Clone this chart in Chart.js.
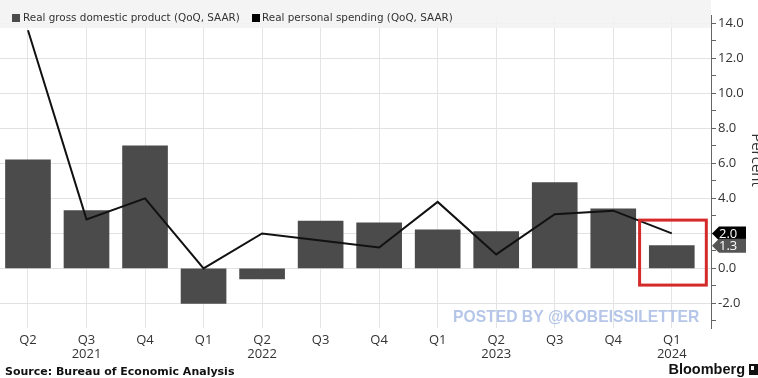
<!DOCTYPE html>
<html>
<head>
<meta charset="utf-8">
<script src="https://cdn.jsdelivr.net/npm/chart.js@4.4.1/dist/chart.umd.min.js"></script>
<style>
  html, body { margin: 0; padding: 0; background: #fff; }
  #wrap { width: 758px; height: 378px; position: relative; }
</style>
</head>
<body>
<div id="wrap"><canvas id="gdp-chart"></canvas></div>
<script>
// Quarterly labels, Q2 2021 .. Q1 2024
const quarters = ['Q2', 'Q3', 'Q4', 'Q1', 'Q2', 'Q3', 'Q4', 'Q1', 'Q2', 'Q3', 'Q4', 'Q1'];
const yearLabels = ['', '2021', '', '', '2022', '', '', '', '2023', '', '', '2024'];

// QoQ SAAR, percent
const gdpGrowth = [6.2, 3.3, 7.0, -2.0, -0.6, 2.7, 2.6, 2.2, 2.1, 4.9, 3.4, 1.3];
const spendingGrowth = [13.6, 2.8, 4.0, 0.0, 2.0, 1.6, 1.2, 3.8, 0.8, 3.1, 3.3, 2.0];

const seriesNames = ['Real gross domestic product (QoQ, SAAR)', 'Real personal spending (QoQ, SAAR)'];

const barColor = '#4b4b4b';
const lineColor = '#111111';
const tickFont = { family: "'Open Sans', sans-serif", size: 13, lineHeight: 1.08 };

// latest quarter highlight (x in quarter index, y in percent)
const highlightBox = { x0: 10.45, x1: 11.59, y0: 2.76, y1: -0.95 };

const overlay = {
    id: 'overlay',
    afterDatasetsDraw(chart) {
        const { ctx, chartArea, scales } = chart;
        const xs = scales.x, ys = scales.y;
        ctx.save();

        // legend strip across the top of the plot
        ctx.fillStyle = 'rgba(242,242,242,0.88)';
        ctx.fillRect(0, 0, chartArea.right, 28);
        ctx.font = "10.4px 'DejaVu Sans'";
        ctx.textBaseline = 'middle';
        ctx.fillStyle = barColor;
        ctx.fillRect(12, 14, 8, 8);
        ctx.fillStyle = '#333';
        ctx.fillText(seriesNames[0], 23, 18);
        ctx.fillStyle = '#000';
        ctx.fillRect(252, 14, 8, 8);
        ctx.fillStyle = '#333';
        ctx.fillText(seriesNames[1], 262, 18);

        // red box around the latest quarter
        const bx0 = xs.getPixelForValue(highlightBox.x0);
        const bx1 = xs.getPixelForValue(highlightBox.x1);
        const by0 = ys.getPixelForValue(highlightBox.y0);
        const by1 = ys.getPixelForValue(highlightBox.y1);
        ctx.strokeStyle = '#d42a2a';
        ctx.lineWidth = 3;
        ctx.strokeRect(bx0, by0, bx1 - bx0, by1 - by0);

        // watermark
        ctx.font = "bold 15.7px 'Liberation Sans'";
        ctx.fillStyle = 'rgba(168,188,228,0.85)';
        ctx.textBaseline = 'middle';
        ctx.fillText('POSTED BY @KOBEISSILETTER', 453, 318);
        ctx.restore();
    },
    afterDraw(chart) {
        const { ctx, chartArea, scales } = chart;
        const ys = scales.y;
        const ax = chartArea.right;
        ctx.save();

        // last-value tags on the axis
        function tag(value, fill) {
            const yc = ys.getPixelForValue(value);
            ctx.fillStyle = fill;
            ctx.beginPath();
            ctx.moveTo(ax + 1, yc);
            ctx.lineTo(ax + 8, yc - 7);
            ctx.lineTo(746, yc - 7);
            ctx.lineTo(746, yc + 7);
            ctx.lineTo(ax + 8, yc + 7);
            ctx.closePath();
            ctx.fill();
            ctx.fillStyle = '#fff';
            ctx.font = "13px 'Open Sans'";
            ctx.textBaseline = 'middle';
            ctx.textAlign = 'left';
            ctx.fillText(value.toFixed(1), 719, yc + 0.5);
        }
        tag(spendingGrowth[spendingGrowth.length - 1], '#000');
        tag(gdpGrowth[gdpGrowth.length - 1], '#555');

        // axis title, rotated clockwise
        ctx.save();
        ctx.translate(756, 160);
        ctx.rotate(Math.PI / 2);
        ctx.font = "15px 'Open Sans'";
        ctx.fillStyle = '#333';
        ctx.textAlign = 'center';
        ctx.textBaseline = 'middle';
        ctx.fillText('Percent', 0, 0);
        ctx.restore();

        // footer
        ctx.textBaseline = 'middle';
        ctx.textAlign = 'left';
        ctx.fillStyle = '#111';
        ctx.font = "bold 11px 'DejaVu Sans'";
        ctx.fillText('Source: Bureau of Economic Analysis', 5, 372);
        ctx.font = "bold 14.5px 'Liberation Sans'";
        ctx.textAlign = 'right';
        ctx.fillText('Bloomberg', 745, 370);
        ctx.fillRect(749, 364, 9, 11);
        ctx.fillStyle = '#fff';
        ctx.fillRect(751, 366, 3, 4);
        ctx.restore();
    }
};

new Chart(document.getElementById('gdp-chart'), {
    data: {
        datasets: [
            {
                type: 'line',
                label: seriesNames[1],
                data: spendingGrowth.map((v, i) => ({ x: i, y: v })),
                borderColor: lineColor,
                borderWidth: 2,
                pointRadius: 0,
                tension: 0,
                order: 1
            },
            {
                type: 'bar',
                label: seriesNames[0],
                data: gdpGrowth.map((v, i) => ({ x: i, y: v })),
                backgroundColor: barColor,
                barThickness: 45,
                order: 2
            }
        ]
    },
    options: {
        responsive: true,
        maintainAspectRatio: false,
        animation: false,
        layout: { padding: { top: 15, left: 0, right: 0, bottom: 0 } },
        plugins: {
            legend: { display: false },
            tooltip: { enabled: false }
        },
        scales: {
            x: {
                type: 'linear',
                offset: false,
                min: -0.478,
                max: 11.67,
                afterFit: s => { s.height = 50; },
                grid: { color: '#e4e4e4', drawTicks: false, offset: false },
                border: { display: false },
                ticks: {
                    stepSize: 1,
                    includeBounds: false,
                    autoSkip: false,
                    maxRotation: 0,
                    padding: 5,
                    color: '#333',
                    font: tickFont,
                    callback: v => yearLabels[v] ? [quarters[v], yearLabels[v]] : quarters[v]
                }
            },
            y: {
                position: 'right',
                min: -3.4,
                max: 14.47,
                afterFit: s => { s.width = 47; },
                grid: {
                    color: c => (c.tick && c.tick.value % 2 === 0) ? '#e2e2e2' : 'rgba(0,0,0,0)',
                    tickColor: '#666',
                    tickLength: 5
                },
                border: { color: '#666', width: 1 },
                ticks: {
                    stepSize: 1,
                    includeBounds: false,
                    padding: 2,
                    color: '#333',
                    font: tickFont,
                    callback: v => v % 2 === 0 ? v.toFixed(1) : ''
                }
            }
        }
    },
    plugins: [overlay]
});
</script>
</body>
</html>
